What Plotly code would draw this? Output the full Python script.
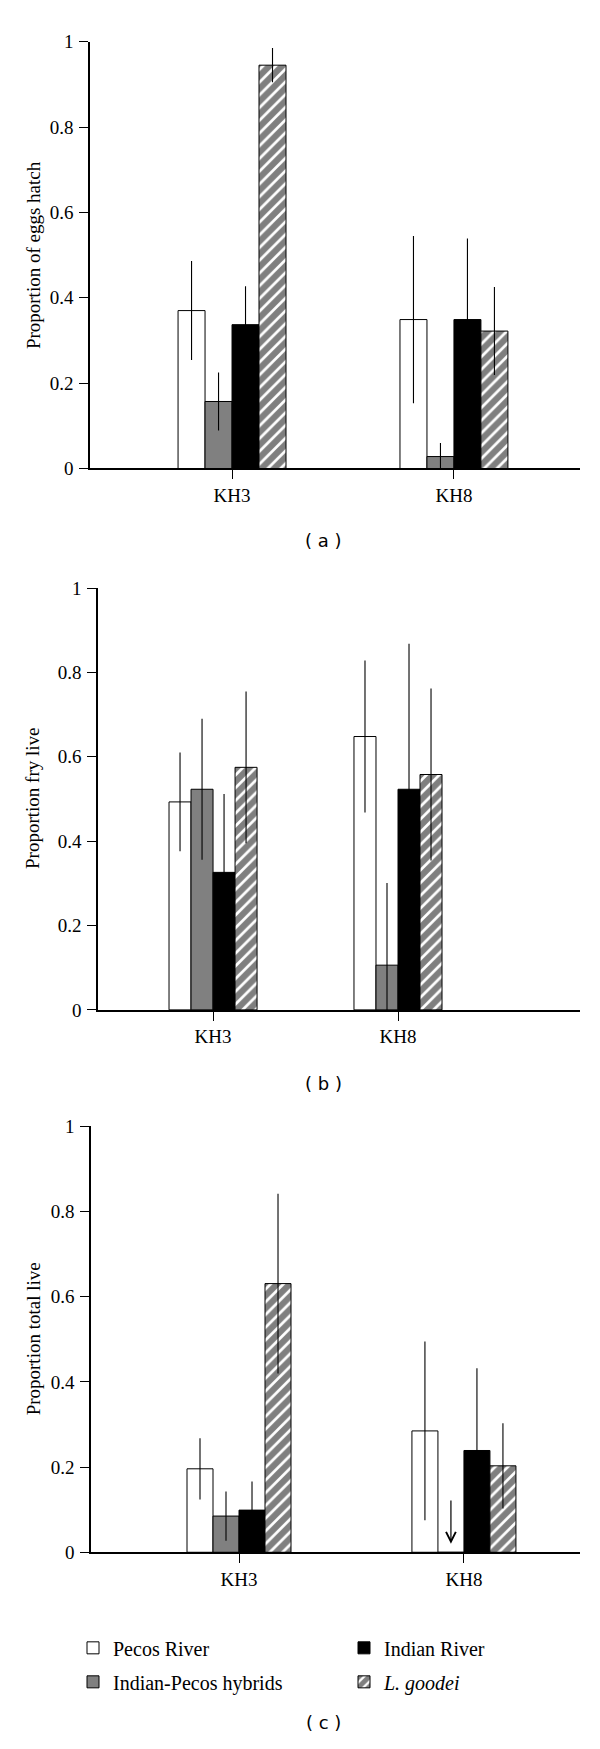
import plotly.graph_objects as go

groups = ["KH3", "KH8"]
series = ["Pecos River", "Indian-Pecos hybrids", "Indian River", "<i>L. goodei</i>"]

# (a) proportion of eggs hatch, mean and error
pecos_hatch = [0.370, 0.349]
pecos_hatch_err = [0.116, 0.196]
hybrid_hatch = [0.157, 0.028]
hybrid_hatch_err = [0.068, 0.032]
indian_hatch = [0.337, 0.349]
indian_hatch_err = [0.090, 0.190]
goodei_hatch = [0.945, 0.322]
goodei_hatch_err = [0.040, 0.103]

# (b) proportion fry live
pecos_fry = [0.493, 0.648]
pecos_fry_err = [0.117, 0.180]
hybrid_fry = [0.523, 0.106]
hybrid_fry_err = [0.167, 0.195]
indian_fry = [0.326, 0.523]
indian_fry_err = [0.186, 0.345]
goodei_fry = [0.575, 0.558]
goodei_fry_err = [0.180, 0.204]

# (c) proportion total live
pecos_total = [0.196, 0.285]
pecos_total_err = [0.072, 0.210]
hybrid_total = [0.085, 0.0]
hybrid_total_err = [0.058, 0.0]
indian_total = [0.099, 0.239]
indian_total_err = [0.067, 0.193]
goodei_total = [0.631, 0.203]
goodei_total_err = [0.211, 0.100]
hybrid_total_kh8_arrow = [0.125, 0.02]  # arrow start / tip, hybrids at KH8 = 0

y_titles = ["Proportion of eggs hatch", "Proportion fry live", "Proportion total live"]
panel_labels = ["( a )", "( b )", "( c )"]

panels = [
    ([pecos_hatch, hybrid_hatch, indian_hatch, goodei_hatch],
     [pecos_hatch_err, hybrid_hatch_err, indian_hatch_err, goodei_hatch_err]),
    ([pecos_fry, hybrid_fry, indian_fry, goodei_fry],
     [pecos_fry_err, hybrid_fry_err, indian_fry_err, goodei_fry_err]),
    ([pecos_total, hybrid_total, indian_total, goodei_total],
     [pecos_total_err, hybrid_total_err, indian_total_err, goodei_total_err]),
]

# the page body has an 8px margin, so the figure is a bit smaller than the window
OFF = 8
W, H = 600 - OFF, 1749 - OFF
SERIF = "Liberation Serif"
fills = ["white", "#808080", "black", "white"]
shapes = ["", "", "", "/"]
legend_col = ["legend", "legend", "legend2", "legend2"]


def fx(px):
    return (px - OFF) / W


def fy(py):
    return 1 - (py - OFF) / H


# window-pixel layout of each panel: x domain, y domain (top, bottom), x range, bar width
x_doms = [(90, 580), (98, 580), (91, 580)]
y_doms = [(32, 464), (585, 1012), (1130, 1561)]
x_ranges = [(-0.640, 1.568), (-0.622, 1.984), (-0.658, 1.516)]
bar_w = [0.1216, 0.119, 0.1156]
label_y = [537, 1087, 1733]

fig = go.Figure()
xs = list(range(len(groups)))

for p, (vals, errs) in enumerate(panels):
    sfx = "" if p == 0 else str(p + 1)
    w = bar_w[p]
    for i in range(4):
        fig.add_trace(go.Bar(
            x=xs, y=vals[i], name=series[i],
            xaxis="x" + sfx, yaxis="y" + sfx,
            width=w, offset=-2 * w + i * w,
            marker=dict(color=fills[i], line=dict(color="black", width=1),
                        pattern=dict(shape=shapes[i], fgcolor="black", bgcolor="white",
                                     size=9, solidity=0.7)),
            error_y=dict(type="data", array=errs[i],
                         arrayminus=[min(e, v) for e, v in zip(errs[i], vals[i])],
                         visible=True, color="black", thickness=1.1, width=0),
            showlegend=(p == 2), legend=legend_col[i], legendgroup=series[i],
        ))

    x0, x1 = x_doms[p]
    t, b = y_doms[p]
    axis_style = dict(showline=True, linecolor="black", linewidth=1.5, ticks="outside",
                      ticklen=9, tickwidth=1.3, tickcolor="black", showgrid=False,
                      zeroline=False, tickfont=dict(family=SERIF, size=19, color="black"))
    fig.update_layout({
        "xaxis" + sfx: dict(domain=[fx(x0), fx(x1)], range=list(x_ranges[p]),
                            tickvals=xs, ticktext=groups, anchor="y" + sfx, **axis_style),
        "yaxis" + sfx: dict(domain=[fy(b), fy(t)], range=[0, 1], dtick=0.2,
                            anchor="x" + sfx, ticklabelstandoff=2, **axis_style),
    })
    fig.add_annotation(text=y_titles[p], textangle=-90, xref="paper", yref="paper",
                       x=fx(33), y=fy((t + b) / 2), xanchor="center", yanchor="middle",
                       showarrow=False, font=dict(family=SERIF, size=19, color="black"))
    fig.add_annotation(text=panel_labels[p], xref="paper", yref="paper",
                       x=fx(323), y=fy(label_y[p]), xanchor="center", yanchor="middle",
                       showarrow=False, font=dict(family="DejaVu Sans", size=18, color="black"))

# zero value for hybrids at KH8 in (c) shown by a down arrow
w = bar_w[2]
ax_x = xs[1] - 2 * w + 1.5 * w
fig.add_annotation(x=ax_x, y=hybrid_total_kh8_arrow[1], ax=ax_x, ay=hybrid_total_kh8_arrow[0],
                   xref="x3", yref="y3", axref="x3", ayref="y3", text="", showarrow=True,
                   arrowhead=5, arrowsize=1.6, arrowwidth=1.2, arrowcolor="black")

legend_style = dict(orientation="v", y=fy(1638), xanchor="left", yanchor="top",
                    traceorder="grouped", tracegroupgap=5, bgcolor="rgba(0,0,0,0)",
                    font=dict(family=SERIF, size=20, color="black"))
fig.update_layout(
    width=W, height=H,
    margin=dict(l=0, r=0, t=0, b=0),
    plot_bgcolor="white", paper_bgcolor="white",
    barmode="overlay",
    font=dict(family=SERIF, size=19, color="black"),
    legend=dict(x=fx(73), **legend_style),
    legend2=dict(x=fx(344), **legend_style),
)

fig.write_html("out.html")
